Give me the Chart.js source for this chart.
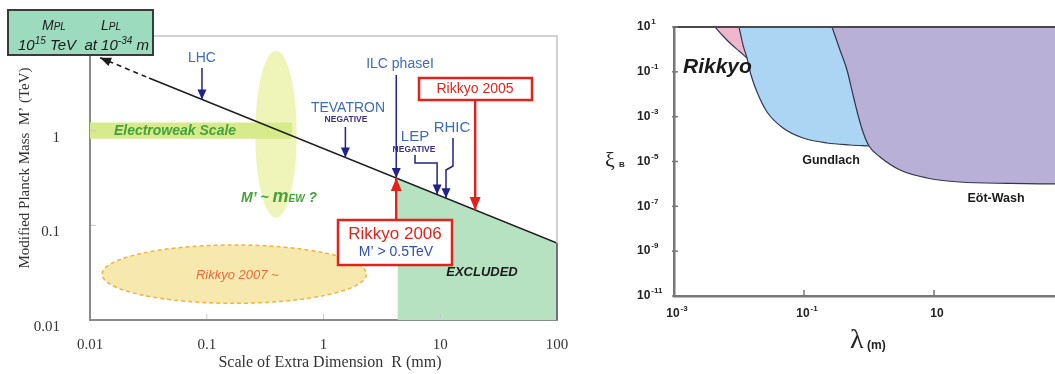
<!DOCTYPE html>
<html>
<head>
<meta charset="utf-8">
<script src="https://cdn.jsdelivr.net/npm/chart.js@4.4.0/dist/chart.umd.min.js"></script>
<style>
html, body { margin: 0; padding: 0; background: #fff; }
body { width: 1055px; height: 374px; position: relative; overflow: hidden; }
canvas { position: absolute; top: 0; }
#leftChart { left: 0; }
#rightChart { left: 590px; }
</style>
</head>
<body>
<canvas id="leftChart" width="580" height="374"></canvas>
<canvas id="rightChart" width="465" height="374"></canvas>
<script>
// ---------- Left panel: R (mm) vs modified Planck mass M' (TeV) ----------
const leftXTicks = [0.01, 0.1, 1, 10, 100];
const leftYTicks = [0.01, 0.1, 1];
const planckLineR = [0.032, 100];
const planckLineM = [3.6, 0.065];
const planckDashR = [0.0122, 0.032];
const planckDashM = [5.9, 3.6];
const excludedR = [4.3, 100];
const excludedM = [0.313, 0.065];
const electroweakR = [0.01, 0.54];
const electroweakM = [0.82, 1.22];          // band low, band high
const mewRegionR = [0.26, 0.59];            // "M' ~ mEW ?" ellipse extent
const mewRegionM = [0.12, 7.0];
const rikkyo2007R = [0.0127, 2.33];         // "Rikkyo 2007 ~" ellipse extent
const rikkyo2007M = [0.015, 0.062];
// experiments pointing at the line
const experimentNames = ['LHC', 'TEVATRON', 'ILC phaseI', 'LEP', 'RHIC', 'Rikkyo 2005', 'Rikkyo 2006'];
const experimentR = [0.091, 1.54, 4.2, 9.4, 11.2, 19.9, 4.2];

// ---------- Right panel: lambda (m) vs xi_B ----------
const rightXTicks = [1e-3, 1e-1, 10];
const rightXExp = ['-3', '-1', ''];
const rightYTicks = [10, 1e-1, 1e-3, 1e-5, 1e-7, 1e-9, 1e-11];
const rightYExp = ['1', '-1', '-3', '-5', '-7', '-9', '-11'];
const eotWashLambda = [0.27, 0.358, 0.459, 0.568, 0.678, 0.809, 1.0, 1.48, 3.0, 7.8, 25, 148, 728];
const eotWashXi = [10, 0.94, 0.121, 0.00927, 0.00119, 2.07e-4, 4.92e-5, 1.59e-5, 4.19e-6, 1.84e-6, 1.22e-6, 1.05e-6, 1.0e-6];
const gundlachLambda = [0.01, 0.01153, 0.01327, 0.01531, 0.01892, 0.02698, 0.04753, 0.0966, 0.226, 0.511, 1.0];
const gundlachXi = [10, 1.57, 0.414, 0.0723, 0.0126, 0.00162, 3.13e-4, 1.12e-4, 6.7e-5, 5.46e-5, 4.92e-5];
const rikkyoLambda = [0.00428, 0.00568, 0.00753, 0.01, 0.01327];
const rikkyoXi = [10, 3.98, 1.74, 0.85, 0.414];

const SANS = '"Liberation Sans", Arial, sans-serif';
const SERIF = '"Liberation Serif", "Times New Roman", serif';

function zip(xs, ys) {
    return xs.map((x, i) => ({ x: x, y: ys[i] }));
}

function isDecade(v) {
    const l = Math.log10(v);
    return Math.abs(l - Math.round(l)) < 1e-6;
}

/**
 * Filled triangle arrow head, tip at (x, y), pointing along (dx, dy)
 */
function arrowHead(ctx, x, y, dx, dy, len, half, color) {
    const n = Math.hypot(dx, dy);
    const ux = dx / n, uy = dy / n;
    ctx.fillStyle = color;
    ctx.beginPath();
    ctx.moveTo(x, y);
    ctx.lineTo(x - ux * len - uy * half, y - uy * len + ux * half);
    ctx.lineTo(x - ux * len + uy * half, y - uy * len - ux * half);
    ctx.closePath();
    ctx.fill();
}

function polyArrow(ctx, pts, color, width, len, half) {
    ctx.strokeStyle = color;
    ctx.lineWidth = width;
    ctx.beginPath();
    pts.forEach((p, i) => i ? ctx.lineTo(p[0], p[1]) : ctx.moveTo(p[0], p[1]));
    const a = pts[pts.length - 2], b = pts[pts.length - 1];
    ctx.stroke();
    arrowHead(ctx, b[0], b[1], b[0] - a[0], b[1] - a[1], len, half, color);
}

function text(ctx, str, x, y, font, color, align) {
    ctx.font = font;
    ctx.fillStyle = color;
    ctx.textAlign = align || 'center';
    ctx.textBaseline = 'middle';
    ctx.fillText(str, x, y);
}

// y pixel of the solid Planck line at pixel x
function lineYAt(chart, px) {
    const pts = chart.getDatasetMeta(0).data;
    const a = pts[0], b = pts[pts.length - 1];
    return a.y + (b.y - a.y) * (px - a.x) / (b.x - a.x);
}

function ellipseFromRange(chart, rr, mm) {
    const xs = chart.scales.x, ys = chart.scales.y;
    const x1 = xs.getPixelForValue(rr[0]), x2 = xs.getPixelForValue(rr[1]);
    const y1 = ys.getPixelForValue(mm[0]), y2 = ys.getPixelForValue(mm[1]);
    return { cx: (x1 + x2) / 2, cy: (y1 + y2) / 2, rx: Math.abs(x2 - x1) / 2, ry: Math.abs(y2 - y1) / 2 };
}

const leftDecor = {
    id: 'leftDecor',
    beforeDatasetsDraw(chart) {
        const ctx = chart.ctx;
        ctx.save();
        // M' ~ mEW ellipse
        let e = ellipseFromRange(chart, mewRegionR, mewRegionM);
        ctx.fillStyle = '#eff5b9';
        ctx.beginPath();
        ctx.ellipse(e.cx, e.cy, e.rx, e.ry, 0, 0, Math.PI * 2);
        ctx.fill();
        // Rikkyo 2007 ellipse
        e = ellipseFromRange(chart, rikkyo2007R, rikkyo2007M);
        ctx.fillStyle = '#f7e9ae';
        ctx.strokeStyle = '#efb43e';
        ctx.lineWidth = 1.5;
        ctx.setLineDash([4, 3]);
        ctx.beginPath();
        ctx.ellipse(e.cx, e.cy, e.rx, e.ry, 0, 0, Math.PI * 2);
        ctx.fill();
        ctx.stroke();
        ctx.setLineDash([]);
        text(ctx, 'Rikkyo 2007 ~', e.cx + 3, e.cy + 1, 'italic 13px ' + SANS, '#ec6a40');
        ctx.restore();
    },
    afterDatasetsDraw(chart) {
        const ctx = chart.ctx;
        const xs = chart.scales.x, ys = chart.scales.y;
        const area = chart.chartArea;
        ctx.save();

        // frame (top/right) and inner tick marks
        ctx.strokeStyle = '#c4c4c4';
        ctx.lineWidth = 1.5;
        ctx.beginPath();
        ctx.moveTo(area.left, area.top);
        ctx.lineTo(area.right, area.top);
        ctx.lineTo(area.right, area.bottom);
        ctx.stroke();
        const exMeta = chart.getDatasetMeta(2).data;
        ctx.strokeStyle = '#555';
        ctx.beginPath();
        ctx.moveTo(area.right, exMeta[exMeta.length - 1].y);
        ctx.lineTo(area.right, area.bottom);
        ctx.stroke();
        ctx.strokeStyle = '#c8c8c8';
        ctx.lineWidth = 1;
        leftXTicks.slice(1, -1).forEach(v => {
            const px = xs.getPixelForValue(v);
            ctx.beginPath(); ctx.moveTo(px, area.bottom - 1); ctx.lineTo(px, area.bottom - 6); ctx.stroke();
        });
        leftYTicks.slice(1).forEach(v => {
            const py = ys.getPixelForValue(v);
            ctx.beginPath(); ctx.moveTo(area.left + 1, py); ctx.lineTo(area.left + 6, py); ctx.stroke();
        });

        // arrow head at the end of the dashed part
        const d = chart.getDatasetMeta(1).data;
        arrowHead(ctx, d[0].x, d[0].y, d[0].x - d[1].x, d[0].y - d[1].y, 11, 4.5, '#1e1e1e');

        // text inside regions
        text(ctx, 'Electroweak Scale', 175, 131, 'bold italic 14px ' + SANS, '#45a23a');
        text(ctx, 'EXCLUDED', 482, 272, 'bold italic 13px ' + SANS, '#1a1a1a');
        // M' ~ mEW ?
        ctx.textAlign = 'left';
        ctx.textBaseline = 'alphabetic';
        ctx.fillStyle = '#45a23a';
        let x = 241;
        const by = 202;
        [['M\u2019 ~ ', 'bold italic 14px '], ['m', 'bold italic 18px '], ['EW', 'bold italic 10px '], [' ?', 'bold italic 14px ']]
            .forEach(p => { ctx.font = p[1] + SANS; ctx.fillText(p[0], x, by); x += ctx.measureText(p[0]).width; });

        // experiment arrows
        const navy = '#22228a', blue = '#3f6db5', red = '#e3231b', negColor = '#3b2e8c';
        const px = experimentR.map(r => xs.getPixelForValue(r));
        // LHC
        text(ctx, experimentNames[0], px[0], 58, '14px ' + SANS, blue);
        polyArrow(ctx, [[px[0], 68], [px[0], lineYAt(chart, px[0])]], navy, 1.5, 10, 4.5);
        // TEVATRON
        text(ctx, experimentNames[1], 348, 108, '14px ' + SANS, blue);
        text(ctx, 'NEGATIVE', 346, 120, 'bold 8.5px ' + SANS, negColor);
        polyArrow(ctx, [[px[1], 127], [px[1], lineYAt(chart, px[1])]], navy, 1.5, 10, 4.5);
        // ILC phase I
        text(ctx, experimentNames[2], 400, 64, '14px ' + SANS, blue);
        polyArrow(ctx, [[px[2], 75], [px[2], lineYAt(chart, px[2])]], navy, 1.5, 10, 4.5);
        // LEP
        text(ctx, experimentNames[3], 415, 137, '15px ' + SANS, blue);
        text(ctx, 'NEGATIVE', 414, 150, 'bold 8.5px ' + SANS, negColor);
        polyArrow(ctx, [[415, 155], [415, 163], [px[3], 163], [px[3], lineYAt(chart, px[3])]], navy, 1.5, 10, 4.5);
        // RHIC
        text(ctx, experimentNames[4], 452, 128, '15px ' + SANS, blue);
        polyArrow(ctx, [[453, 138], [453, 166], [px[4], 170], [px[4], lineYAt(chart, px[4])]], navy, 1.5, 10, 4.5);

        // Rikkyo 2005 box + arrow
        polyArrow(ctx, [[px[5], 100], [px[5], lineYAt(chart, px[5])]], red, 2.5, 13, 5.5);
        ctx.fillStyle = '#fff';
        ctx.fillRect(419, 78, 113, 22);
        ctx.strokeStyle = red;
        ctx.lineWidth = 2.5;
        ctx.strokeRect(419, 78, 113, 22);
        text(ctx, experimentNames[5], 475, 89.5, '14px ' + SANS, red);

        // Rikkyo 2006 box + arrow
        polyArrow(ctx, [[px[6], 220], [px[6], lineYAt(chart, px[6])]], red, 2.5, 13, 5.5);
        ctx.fillStyle = '#fff';
        ctx.fillRect(338, 220, 114, 45);
        ctx.strokeStyle = red;
        ctx.strokeRect(338, 220, 114, 45);
        text(ctx, experimentNames[6], 395, 234, '17px ' + SANS, red);
        text(ctx, 'M\u2019 > 0.5TeV', 396, 252, '14px ' + SANS, '#2e4fae');

        // Planck scale box
        ctx.fillStyle = '#9ddbbf';
        ctx.fillRect(8, 10, 145, 45);
        ctx.strokeStyle = '#3a3a3a';
        ctx.lineWidth = 2;
        ctx.strokeRect(8, 10, 145, 45);
        ctx.fillStyle = '#1a1a1a';
        ctx.textAlign = 'left';
        ctx.textBaseline = 'alphabetic';
        const seq = (x0, y0, parts) => {
            let cx = x0;
            parts.forEach(p => {
                ctx.font = p[1] + SANS;
                ctx.fillText(p[0], cx, y0 - (p[2] || 0));
                cx += ctx.measureText(p[0]).width;
            });
        };
        seq(42, 30, [['M', 'italic 14px '], ['PL', 'italic 10px ']]);
        seq(101, 30, [['L', 'italic 14px '], ['PL', 'italic 10px ']]);
        seq(18, 50, [['10', 'italic 15px '], ['15', 'italic 10px ', 6], [' TeV  at 10', 'italic 15px '], ['-34', 'italic 10px ', 6], [' m', 'italic 15px ']]);

        // axis titles
        ctx.save();
        ctx.translate(25, 168);
        ctx.rotate(-Math.PI / 2);
        text(ctx, 'Modified Planck Mass  M\u2019 (TeV)', 0, 0, '15px ' + SERIF, '#333');
        ctx.restore();
        text(ctx, 'Scale of Extra Dimension  R (mm)', 330, 363, '16px ' + SERIF, '#333');
        ctx.restore();
    }
};

const leftChart = new Chart(document.getElementById('leftChart'), {
    type: 'line',
    data: {
        datasets: [
            {
                data: zip(planckLineR, planckLineM),
                borderColor: '#1e1e1e', borderWidth: 1.6, pointRadius: 0, fill: false
            },
            {
                data: zip(planckDashR, planckDashM),
                borderColor: '#1e1e1e', borderWidth: 1.6, borderDash: [5, 4], pointRadius: 0, fill: false
            },
            {
                data: zip(excludedR, excludedM),
                borderWidth: 0, borderColor: 'rgba(0,0,0,0)', backgroundColor: '#b7e2c1', pointRadius: 0, fill: 'start'
            },
            {
                data: zip(electroweakR, [electroweakM[1], electroweakM[1]]),
                borderWidth: 0, borderColor: 'rgba(0,0,0,0)', backgroundColor: '#d7ea8c', pointRadius: 0,
                fill: { value: electroweakM[0] }
            }
        ]
    },
    options: {
        responsive: false,
        animation: false,
        events: [],
        layout: { padding: { left: 0, top: 36, right: 23, bottom: 0 } },
        plugins: { legend: { display: false }, tooltip: { enabled: false } },
        scales: {
            x: {
                type: 'logarithmic', min: 0.01, max: 100,
                grid: { display: false },
                border: { color: '#8a8a8a', width: 2 },
                ticks: {
                    autoSkip: false, maxRotation: 0, padding: 8,
                    font: { family: SERIF, size: 15 }, color: '#333',
                    callback: v => (isDecade(v) && leftXTicks.some(t => Math.abs(t - v) / t < 1e-6)) ? String(v) : ''
                },
                afterFit: s => { s.height = 54; }
            },
            y: {
                type: 'logarithmic', min: 0.01, max: 10,
                grid: { display: false },
                border: { color: '#8a8a8a', width: 2 },
                ticks: {
                    autoSkip: false, padding: 22, labelOffset: 7,
                    font: { family: SERIF, size: 15 }, color: '#333',
                    callback: v => (isDecade(v) && leftYTicks.some(t => Math.abs(t - v) / t < 1e-6)) ? String(v) : ''
                },
                afterFit: s => { s.width = 90; }
            }
        }
    },
    plugins: [leftDecor]
});

// ---------- Right panel ----------
const rightDecor = {
    id: 'rightDecor',
    afterDraw(chart) {
        const ctx = chart.ctx;
        const xs = chart.scales.x, ys = chart.scales.y;
        const area = chart.chartArea;
        ctx.save();
        // top border
        ctx.strokeStyle = '#4a4a4a';
        ctx.lineWidth = 2;
        ctx.beginPath();
        ctx.moveTo(area.left, area.top);
        ctx.lineTo(area.right, area.top);
        ctx.stroke();

        ctx.strokeStyle = '#777';
        ctx.lineWidth = 1.5;
        ctx.textBaseline = 'middle';
        ctx.fillStyle = '#222';
        // y ticks and labels
        rightYTicks.forEach((v, i) => {
            const py = ys.getPixelForValue(v);
            ctx.beginPath(); ctx.moveTo(area.left - 2, py); ctx.lineTo(area.left + 4, py); ctx.stroke();
            ctx.textAlign = 'left';
            ctx.font = 'bold 12px ' + SANS;
            ctx.fillText('10', area.left - 37, py);
            const w = ctx.measureText('10').width;
            ctx.font = 'bold 8px ' + SANS;
            ctx.fillText(rightYExp[i], area.left - 37 + w + 1, py - 5);
        });
        // x ticks and labels
        rightXTicks.forEach((v, i) => {
            const px = xs.getPixelForValue(v);
            if (i > 0) {
                ctx.beginPath(); ctx.moveTo(px, area.bottom); ctx.lineTo(px, area.bottom - 6); ctx.stroke();
            }
            ctx.font = 'bold 12px ' + SANS;
            const w1 = ctx.measureText('10').width;
            ctx.font = 'bold 8px ' + SANS;
            const w2 = rightXExp[i] ? ctx.measureText(rightXExp[i]).width + 1 : 0;
            const x0 = px + 3 - (w1 + w2) / 2;
            ctx.textAlign = 'left';
            ctx.font = 'bold 12px ' + SANS;
            ctx.fillText('10', x0, area.bottom + 18);
            if (rightXExp[i]) {
                ctx.font = 'bold 8px ' + SANS;
                ctx.fillText(rightXExp[i], x0 + w1 + 1, area.bottom + 13);
            }
        });

        // axis titles
        ctx.textAlign = 'left';
        ctx.font = '22px ' + SERIF;
        ctx.fillText('\u03BE', area.left - 69, ys.getPixelForValue(1e-5));
        ctx.font = 'bold 8px ' + SANS;
        ctx.fillText('B', area.left - 55, ys.getPixelForValue(1e-5) + 3);
        ctx.font = '28px ' + SERIF;
        ctx.fillText('\u03BB', area.left + 176, area.bottom + 45);
        ctx.font = 'bold 12px ' + SANS;
        ctx.fillText('(m)', area.left + 193, area.bottom + 50);

        // curve labels
        ctx.font = 'bold italic 21px ' + SANS;
        ctx.fillStyle = '#1a1a1a';
        ctx.fillText('Rikkyo', area.left + 9, area.top + 40);
        ctx.font = 'bold 12.5px ' + SANS;
        ctx.textAlign = 'center';
        ctx.fillText('Gundlach', area.left + 157, area.top + 134);
        ctx.fillText('E\u00F6t-Wash', area.left + 322, area.top + 172);
        ctx.restore();
    }
};

const curveStyle = {
    borderColor: '#2f3652', borderWidth: 1.2, pointRadius: 0,
    cubicInterpolationMode: 'monotone', fill: 'end'
};

const rightChart = new Chart(document.getElementById('rightChart'), {
    type: 'line',
    data: {
        datasets: [
            Object.assign({ label: 'E\u00F6t-Wash', data: zip(eotWashLambda, eotWashXi), backgroundColor: '#b9b0d8' }, curveStyle),
            Object.assign({ label: 'Gundlach', data: zip(gundlachLambda, gundlachXi), backgroundColor: '#acd5f4' }, curveStyle),
            Object.assign({ label: 'Rikkyo', data: zip(rikkyoLambda, rikkyoXi), backgroundColor: '#f1b6cb' }, curveStyle)
        ]
    },
    options: {
        responsive: false,
        animation: false,
        events: [],
        layout: { padding: { left: 0, top: 27, right: 0, bottom: 0 } },
        plugins: { legend: { display: false }, tooltip: { enabled: false } },
        scales: {
            x: {
                type: 'logarithmic', min: 1e-3, max: 728,
                grid: { display: false },
                border: { color: '#777', width: 2.5 },
                ticks: { display: false },
                afterFit: s => { s.height = 78; }
            },
            y: {
                type: 'logarithmic', min: 1e-11, max: 10,
                grid: { display: false },
                border: { color: '#777', width: 2.5 },
                ticks: { display: false },
                afterFit: s => { s.width = 84; }
            }
        }
    },
    plugins: [rightDecor]
});
</script>
</body>
</html>
